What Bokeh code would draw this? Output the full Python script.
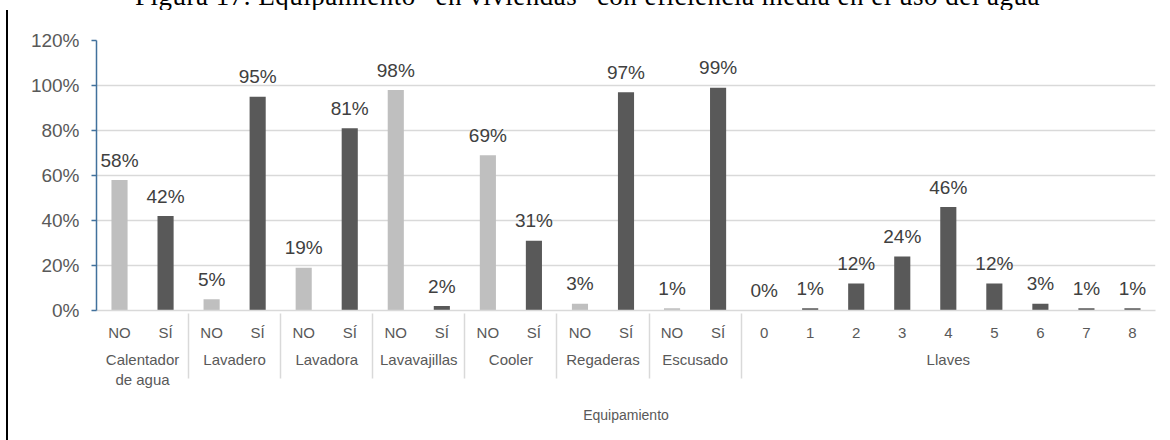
from bokeh.plotting import figure
from bokeh.models import (FactorRange, Range1d, NumeralTickFormatter, FixedTicker,
                          ColumnDataSource, Div)
from bokeh.layouts import row, column
from bokeh.core.properties import value
from bokeh.embed import file_html
from bokeh.resources import INLINE

# --- data -----------------------------------------------------------------
yes_no_groups = ["Calentador\nde agua", "Lavadero", "Lavadora", "Lavavajillas",
                 "Cooler", "Regaderas", "Escusado"]
no_pct = [58, 5, 19, 98, 69, 3, 1]
si_pct = [42, 95, 81, 2, 31, 97, 99]

llaves_labels = ["0", "1", "2", "3", "4", "5", "6", "7", "8"]
llaves_pct = [0, 1, 12, 24, 46, 12, 3, 1, 1]

y_ticks = [0, 0.2, 0.4, 0.6, 0.8, 1.0, 1.2]

title_text = "Figura 17. Equipamiento \u201cen viviendas\u201d con eficiencia media en el uso del agua"

# --- styling ----------------------------------------------------------------
LIGHT = "#bfbfbf"
DARK = "#595959"
TEXT = "#595959"
LABEL = "#404040"
GRID = "#d9d9d9"
SANS = "Liberation Sans"

# --- build factor list and bar table ---------------------------------------------
factors, vals, colors = [], [], []
for g, n, s in zip(yes_no_groups, no_pct, si_pct):
    factors += [(g, "NO"), (g, "SÍ")]
    vals += [n, s]
    colors += [LIGHT, DARK]
for k, v in zip(llaves_labels, llaves_pct):
    factors.append(("Llaves", k))
    vals.append(v)
    colors.append(DARK)

src = ColumnDataSource(dict(
    x=factors,
    y=[v / 100 for v in vals],
    color=colors,
    txt=[f"{v}%" for v in vals],
))

CAPTION_H = 10
EDGE_W = 8
W, H = 1170 - EDGE_W, 440 - CAPTION_H
FRAME_LEFT, FRAME_TOP, FRAME_BOTTOM, FRAME_RIGHT = 88, 30, 300, 15

p = figure(width=W, height=H, output_backend="svg", toolbar_location=None,
           x_range=FactorRange(*factors, group_padding=0, factor_padding=0,
                               subgroup_padding=0, range_padding=0),
           y_range=Range1d(0, 1.2),
           min_border_left=FRAME_LEFT, min_border_right=FRAME_RIGHT,
           min_border_top=FRAME_TOP, min_border_bottom=H - FRAME_BOTTOM)
p.outline_line_color = None
p.background_fill_color = "white"
p.border_fill_color = "white"

p.vbar(x="x", top="y", width=0.35, fill_color="color", line_color=None, source=src)

p.text(x="x", y="y", text="txt", source=src, text_align="center",
       text_baseline="alphabetic", y_offset=-20,
       text_font=value(SANS), text_font_size="19px", text_color=LABEL)

# y axis
yax = p.yaxis[0]
yax.ticker = FixedTicker(ticks=y_ticks)
yax.formatter = NumeralTickFormatter(format="0%")
yax.axis_line_color = "#41719c"
yax.axis_line_width = 1.5
yax.major_tick_line_color = "#41719c"
yax.major_tick_line_width = 1.5
yax.major_tick_in = 0
yax.major_tick_out = 5
yax.minor_tick_line_color = None
yax.major_label_text_font = SANS
yax.major_label_text_font_size = "19px"
yax.major_label_text_color = TEXT
yax.major_label_standoff = 12

p.ygrid.grid_line_color = GRID
p.ygrid.grid_line_width = 1.5
p.xgrid.grid_line_color = None

# x axis: nested categories with group separators
xax = p.xaxis[0]
xax.axis_line_color = GRID
xax.axis_line_width = 1.5
xax.major_tick_line_color = None
xax.minor_tick_line_color = None
xax.major_label_text_font = SANS
xax.major_label_text_font_size = "15px"
xax.major_label_text_color = TEXT
xax.major_label_standoff = 7
xax.group_text_font = SANS
xax.group_text_font_size = "15px"
xax.group_text_font_style = "normal"
xax.group_text_color = TEXT
xax.separator_line_color = GRID
xax.separator_line_width = 1.5
xax.axis_label = "Equipamiento"
xax.axis_label_text_font = SANS
xax.axis_label_text_font_size = "14px"
xax.axis_label_text_font_style = "normal"
xax.axis_label_text_color = TEXT
xax.axis_label_standoff = 16

# caption strip, running off the top edge of the page
caption = Div(
    text=(f'<div style="position:relative; top:-17px; left:135px; white-space:nowrap; '
          f'font-family:\'Liberation Serif\'; font-size:27px; line-height:27px; '
          f'letter-spacing:0.5px; color:black;">{title_text}</div>'),
    width=1170, height=CAPTION_H, margin=(0, 0, 0, 0),
    styles={"overflow": "hidden", "padding": "0", "background": "white"})

# black page border on the left
edge = Div(width=EDGE_W, height=H, margin=(0, 0, 0, 0),
           styles={"box-sizing": "border-box", "border-right": "2px solid black"})

layout = column(caption, row(edge, p, spacing=0), spacing=0)

open("out.html", "w").write(file_html(layout, INLINE))
